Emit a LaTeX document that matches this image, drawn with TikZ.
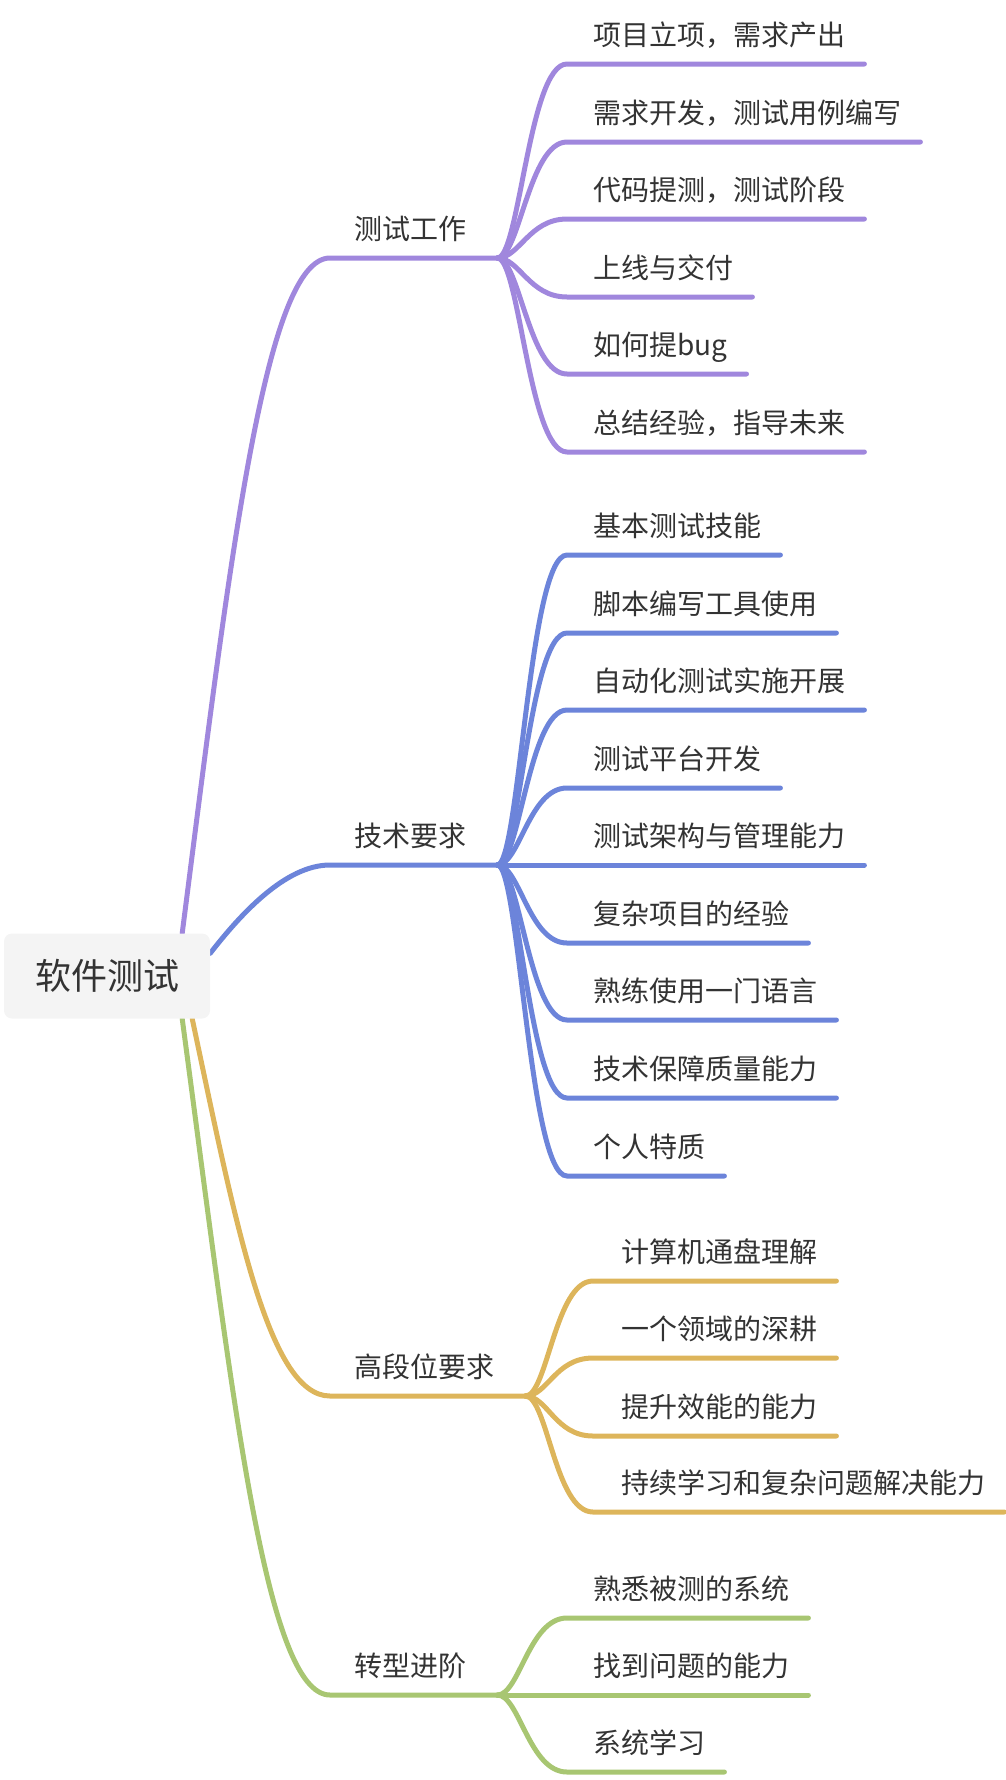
\documentclass[tikz,border=0pt]{standalone}
\usepackage{fontspec}
\setmainfont{Noto Sans CJK SC}
\usetikzlibrary{backgrounds}
\definecolor{zise}{HTML}{A087DD}
\definecolor{lanse}{HTML}{6C84DA}
\definecolor{huangse}{HTML}{DDB55B}
\definecolor{lvse}{HTML}{A8C672}
\definecolor{rootbg}{HTML}{F4F4F4}
\definecolor{txt}{HTML}{333333}
\begin{document}
\begin{tikzpicture}[x=1pt,y=-1pt,
    leaf/.style={anchor=south west,inner xsep=0pt,inner ysep=18pt,text depth=0pt,text height=20pt,text=txt,font=\fontsize{28}{34}\selectfont},
    branch/.style={leaf},
    link/.style={line width=5pt,line cap=round}]
    \useasboundingbox (0,0) rectangle (1006,1780);

    % Raiz
    \node[fill=rootbg,rounded corners=8pt,minimum width=206pt,minimum height=85pt,inner sep=0pt,
          text=txt,font=\fontsize{36}{43}\selectfont,text height=27pt,text depth=0pt] (root) at (107,976) {软件测试};

    % Ramas
    \node[branch] (work) at (354,258) {测试工作};
    \node[branch] (tech) at (354,865) {技术要求};
    \node[branch] (senior) at (354,1396) {高段位要求};
    \node[branch] (advance) at (354,1695) {转型进阶};

    \coordinate (workhub) at ([xshift=31pt]work.south east);
    \coordinate (techhub) at ([xshift=31pt]tech.south east);
    \coordinate (seniorhub) at ([xshift=31pt]senior.south east);
    \coordinate (advancehub) at ([xshift=31pt]advance.south east);

    \begin{scope}[on background layer]
        \draw[link,zise] ([xshift=-28pt]root.north east) .. controls (230,560) and (265,258) .. ([xshift=-24pt]work.south west) -- (workhub);
        \draw[link,lanse] ([yshift=-20pt]root.north east) .. controls (240,915) and (285,865) .. ([xshift=-24pt]tech.south west) -- (techhub);
        \draw[link,huangse] ([xshift=-18pt]root.south east) .. controls (235,1220) and (268,1396) .. ([xshift=-24pt]senior.south west) -- (seniorhub);
        \draw[link,lvse] ([xshift=-28pt]root.south east) .. controls (232,1391) and (265,1695) .. ([xshift=-24pt]advance.south west) -- (advancehub);
    \end{scope}

    % Hojas: testing work
    \foreach \name/\y/\txt in {w1/64/项目立项，需求产出, w2/142/需求开发，测试用例编写, w3/219/代码提测，测试阶段,
                               w4/297/上线与交付, w5/374/如何提bug, w6/452/总结经验，指导未来} {
        \node[leaf] (\name) at (593,\y) {\txt};
        \draw[link,zise] (workhub) .. controls +(22,0) and +(-38,0) .. ([xshift=-26pt]\name.south west) -- ([xshift=19pt]\name.south east);
    }

    % Hojas: technical requirements
    \foreach \name/\y/\txt in {t1/555/基本测试技能, t2/633/脚本编写工具使用, t3/710/自动化测试实施开展,
                               t4/788/测试平台开发, t5/865/测试架构与管理能力, t6/943/复杂项目的经验,
                               t7/1020/熟练使用一门语言, t8/1098/技术保障质量能力, t9/1176/个人特质} {
        \node[leaf] (\name) at (593,\y) {\txt};
        \draw[link,lanse] (techhub) .. controls +(22,0) and +(-38,0) .. ([xshift=-26pt]\name.south west) -- ([xshift=19pt]\name.south east);
    }

    % Hojas: senior level
    \foreach \name/\y/\txt in {s1/1281/计算机通盘理解, s2/1358/一个领域的深耕, s3/1436/提升效能的能力,
                               s4/1512/持续学习和复杂问题解决能力} {
        \node[leaf] (\name) at (621,\y) {\txt};
        \draw[link,huangse] (seniorhub) .. controls +(22,0) and +(-38,0) .. ([xshift=-28pt]\name.south west) -- ([xshift=19pt]\name.south east);
    }

    % Hojas: transition
    \foreach \name/\y/\txt in {a1/1618/熟悉被测的系统, a2/1695/找到问题的能力, a3/1772/系统学习} {
        \node[leaf] (\name) at (593,\y) {\txt};
        \draw[link,lvse] (advancehub) .. controls +(22,0) and +(-38,0) .. ([xshift=-26pt]\name.south west) -- ([xshift=19pt]\name.south east);
    }
\end{tikzpicture}
\end{document}
